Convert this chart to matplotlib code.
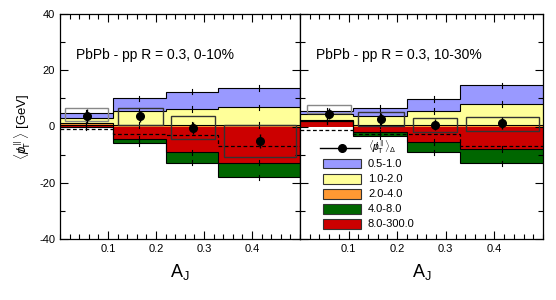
import numpy as np
import matplotlib
matplotlib.use("Agg")
import matplotlib.pyplot as plt
from matplotlib.patches import Rectangle
from matplotlib.lines import Line2D
from matplotlib.ticker import MultipleLocator

plt.rcParams['font.family'] = ['Liberation Sans', 'DejaVu Sans']
plt.rcParams['mathtext.fontset'] = 'custom'
plt.rcParams['mathtext.rm'] = 'Liberation Sans'
plt.rcParams['mathtext.it'] = 'Liberation Sans:italic'
plt.rcParams['mathtext.bf'] = 'Liberation Sans:bold'

# ---------------- data ----------------
bin_edges = [0.0, 0.11, 0.22, 0.33, 0.5]
bin_centers = [0.055, 0.165, 0.275, 0.415]
pt_classes = ["0.5-1.0", "1.0-2.0", "2.0-4.0", "4.0-8.0", "8.0-300.0"]
panel_titles = ["PbPb - pp R = 0.3, 0-10%", "PbPb - pp R = 0.3, 10-30%"]

# contributions per pT class (GeV), 0-10%
c010_05_1 = [1.7, 4.5, 6.1, 6.8]
c010_1_2 = [2.0, 5.0, 5.8, 6.3]
c010_2_4 = [0.5, 0.5, 0.5, 0.5]
c010_4_8 = [-0.2, -1.4, -3.6, -5.3]
c010_8_300 = [0.6, -4.5, -9.2, -12.8]
dash010 = [-0.8, -2.7, -2.9, -6.8]
pts010_x = [0.056, 0.167, 0.277, 0.417]
pts010_y = [3.9, 3.6, -0.5, -5.3]
pts010_err = [2.5, 2.0, 2.0, 2.5]
sys010_lo = [2.1, 0.5, -4.5, -11.0]
sys010_hi = [6.5, 6.5, 3.9, 0.5]

# contributions per pT class (GeV), 10-30%
c1030_05_1 = [0.9, 2.7, 4.2, 6.6]
c1030_1_2 = [2.4, 3.3, 5.0, 7.4]
c1030_2_4 = [0.2, 0.6, 0.6, 0.6]
c1030_4_8 = [0.0, -1.2, -3.6, -5.1]
c1030_8_300 = [2.0, -2.1, -5.6, -8.0]
dash1030 = [-1.1, -2.7, -2.7, -6.8]
pts1030_x = [0.059, 0.167, 0.278, 0.416]
pts1030_y = [4.5, 2.7, 0.65, 1.25]
pts1030_err = [2.0, 2.0, 2.0, 2.0]
sys1030_lo = [4.7, 0.3, -2.1, -1.5]
sys1030_hi = [7.6, 5.1, 2.9, 3.5]

sys_halfwidth = [0.045, 0.047, 0.046, 0.075]

colors = ['#9999ff', '#ffff99', '#ff9933', '#006600', '#cc0000']
box_edge = ['#888888', '#333333', '#333333', '#333333']

W, H = 556, 300
fig = plt.figure(figsize=(W / 100, H / 100), dpi=100)
axL = fig.add_axes([60 / W, (H - 239) / H, 240 / W, 225 / H])
axR = fig.add_axes([300 / W, (H - 239) / H, 243 / W, 225 / H])

panels = [
    (axL, [c010_05_1, c010_1_2, c010_2_4, c010_4_8, c010_8_300], dash010,
     pts010_x, pts010_y, pts010_err, sys010_lo, sys010_hi, panel_titles[0]),
    (axR, [c1030_05_1, c1030_1_2, c1030_2_4, c1030_4_8, c1030_8_300], dash1030,
     pts1030_x, pts1030_y, pts1030_err, sys1030_lo, sys1030_hi, panel_titles[1]),
]

edges = np.array(bin_edges)
for ax, comps, dash, px, py, pe, slo, shi, title in panels:
    # stacking order from zero outward: 8-300, 4-8, 2-4, 1-2, 0.5-1
    order = [4, 3, 2, 1, 0]
    pos = np.zeros(4)
    neg = np.zeros(4)
    ends = []
    for k in order:
        v = np.array(comps[k], dtype=float)
        bottom = np.where(v >= 0, pos, neg)
        top = bottom + v
        ax.stairs(top, edges, baseline=bottom, fill=True, color=colors[k], lw=0, zorder=1)
        pos = np.where(v >= 0, top, pos)
        neg = np.where(v < 0, top, neg)
        ends.append((k, top.copy(), bottom.copy()))
    for k, top, bottom in ends:
        ax.stairs(top, edges, baseline=None, color='black', lw=0.8, zorder=2)
        for xc, t in zip(bin_centers, top):
            ax.plot([xc, xc], [t - 1.0, t + 1.0], color='black', lw=0.8, zorder=2)
    ax.stairs(np.array(dash), edges, baseline=None, color='black', lw=0.9,
              ls=(0, (3, 2)), zorder=3)
    for i in range(4):
        ax.add_patch(Rectangle((px[i] - sys_halfwidth[i], slo[i]), 2 * sys_halfwidth[i],
                               shi[i] - slo[i], fill=False, edgecolor=box_edge[i],
                               lw=1.0, zorder=4))
    ax.errorbar(px, py, yerr=pe, fmt='o', color='black', ms=5.5, elinewidth=1.0,
                capsize=0, zorder=5)
    ax.text(0.065, 0.80, title, transform=ax.transAxes, fontsize=10, ha='left',
            va='baseline')

    ax.set_xlim(0, 0.5)
    ax.set_ylim(-40, 40)
    ax.xaxis.set_major_locator(MultipleLocator(0.1))
    ax.xaxis.set_minor_locator(MultipleLocator(0.02))
    ax.yaxis.set_major_locator(MultipleLocator(20))
    ax.yaxis.set_minor_locator(MultipleLocator(10))
    ax.tick_params(which='both', direction='in', top=True, right=True, labelsize=8,
                   width=0.8)
    ax.tick_params(which='major', length=6)
    ax.tick_params(which='minor', length=3.5)
    ax.set_xticks([0.1, 0.2, 0.3, 0.4])
    ax.set_xticklabels(['0.1', '0.2', '0.3', '0.4'])
    ax.xaxis.set_minor_locator(MultipleLocator(0.02))
    for s in ax.spines.values():
        s.set_linewidth(0.9)
    ax.set_xlabel(r'A$_{\mathrm{J}}$', fontsize=13, labelpad=6)

axL.set_yticks([-40, -20, 0, 20, 40])
axL.set_yticklabels(['-40', '-20', '0', '20', '40'])
axR.tick_params(labelleft=False)
axL.set_ylabel(r'$\langle p\!\!\!/_{\mathrm{T}}^{\,\parallel}\rangle$ [GeV]', fontsize=9.5,
               labelpad=4)

# legend (drawn in right panel, axes fraction)
def yf(ypx):
    return (239 - ypx) / 225

axR.add_line(Line2D([(320 - 300) / 243, (360 - 300) / 243], [yf(147.7)] * 2,
                    transform=axR.transAxes, color='black', lw=1.0, zorder=6))
axR.plot([(341.7 - 300) / 243], [yf(147.7)], 'o', color='black', ms=5.5,
         transform=axR.transAxes, zorder=6)
axR.text((368 - 300) / 243, yf(147.7), r'$\langle p\!\!\!/_{\mathrm{T}}^{\,\parallel}\rangle_{\Delta}$',
         transform=axR.transAxes, fontsize=7.5, va='center', ha='left', zorder=6)
leg_y = [163.7, 178.8, 193.8, 208.8, 224.0]
for k in range(5):
    axR.add_patch(Rectangle(((322.7 - 300) / 243, yf(leg_y[k] + 4.7)), 38 / 243, 9.4 / 225,
                            transform=axR.transAxes, facecolor=colors[k],
                            edgecolor='#333333', lw=0.8, zorder=6))
    axR.text((368 - 300) / 243, yf(leg_y[k]), pt_classes[k], transform=axR.transAxes,
             fontsize=8, va='center', ha='left', zorder=6)

fig.savefig('out.png', dpi=100)
